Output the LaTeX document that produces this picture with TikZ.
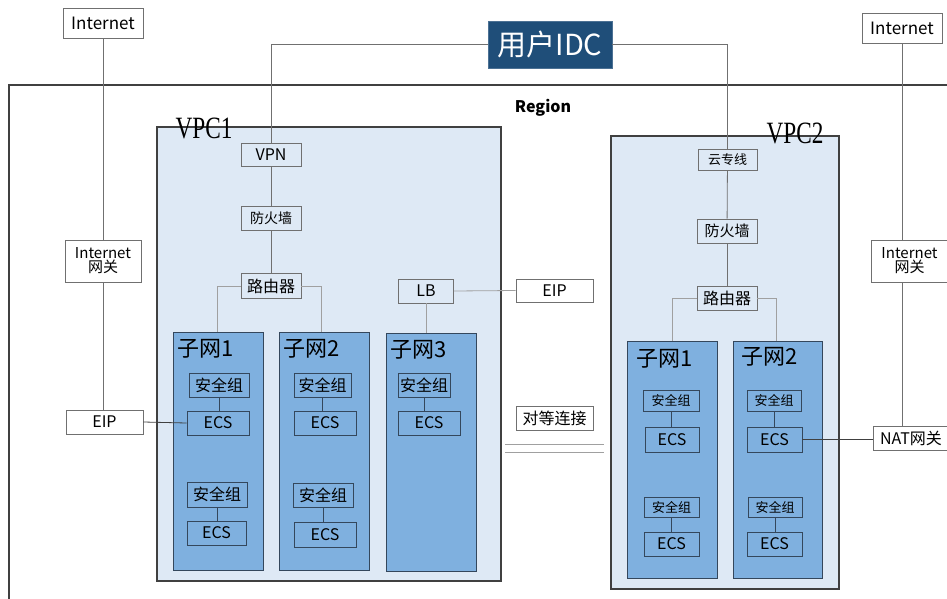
\documentclass[tikz,border=0pt]{standalone}
\usepackage{fontspec}
\setmainfont{Noto Sans CJK SC}
\newfontfamily\vpcfont{Liberation Serif}
\usetikzlibrary{calc}

\definecolor{vpcfill}{HTML}{DEE9F5}
\definecolor{subfill}{HTML}{7FB0DF}
\definecolor{idcblue}{HTML}{1F4E79}
\definecolor{edgec}{HTML}{404040}
\definecolor{wire}{HTML}{707070}
\definecolor{wirelt}{HTML}{A0A0A0}
\definecolor{innerc}{HTML}{34475C}

\tikzset{
  fs/.style={font=\fontsize{#1}{#1}\selectfont},
  sz/.style 2 args={minimum width=#1, minimum height=#2},
  box/.style={draw=wire, fill=white, inner sep=0pt, line width=0.9pt, fs=16},
  vbox/.style={box, fill=vpcfill},
  sbox/.style={draw=innerc, fill=subfill, inner sep=0pt, line width=0.9pt, fs=16},
  vpc/.style={draw=edgec, fill=vpcfill, line width=1.1pt, inner sep=0pt},
  subnet/.style={draw=innerc, fill=subfill, line width=1pt, inner sep=0pt},
  subtitle/.style={anchor=west, inner sep=0pt, fs=22},
  vpclabel/.style={inner sep=0pt, font=\vpcfont\fontsize{31}{31}\selectfont},
  link/.style={draw=wire, line width=0.8pt},
  linkdk/.style={draw=edgec, line width=0.8pt},
  linklt/.style={draw=wirelt, line width=0.8pt},
}

\begin{document}
\begin{tikzpicture}[x=1pt, y=-1pt]
\useasboundingbox (0,0) rectangle (947,599);
\clip (0,0) rectangle (947,599);

% Region frame (continues past the lower and right edges)
\draw[edgec, line width=1.1pt] (9,620) -- (9,85) -- (960,85);
\node[inner sep=0pt, font=\bfseries\fontsize{16}{16}\selectfont] (region) at (543,108) {Region};

% VPC containers
\node[vpc, sz={344}{454}] (vpc1) at (329,354) {};
\node[vpc, sz={228}{453}] (vpc2) at (725,362.5) {};

% Subnets of VPC1
\node[subnet, sz={90}{238}] (s11) at (218,451) {};
\node[subnet, sz={90}{238}] (s12) at (324,451) {};
\node[subnet, sz={90}{238}] (s13) at (431,452) {};
\node[subtitle] (s11t) at (177,349) {子网1};
\node[subtitle] (s12t) at (283,349) {子网2};
\node[subtitle] (s13t) at (390,350) {子网3};

% Subnets of VPC2
\node[subnet, sz={90}{237}] (s21) at (672,459.5) {};
\node[subnet, sz={89}{237}] (s22) at (777.5,459.5) {};
\node[subtitle] (s21t) at (636,359) {子网1};
\node[subtitle] (s22t) at (741,357) {子网2};

% VPC titles
\node[vpclabel] (vpc1t) at (204,128) {\scalebox{0.75}[1]{VPC1}};
\node[vpclabel] (vpc2t) at (795,133) {\scalebox{0.75}[1]{VPC2}};

% Outside the region
\node[box, sz={80}{30}, fs=17] (inetL) at (103,23) {Internet};
\node[box, sz={80}{30}, fs=17] (inetR) at (902,28) {Internet};
\node[draw=idcblue!80!white, fill=idcblue, text=white, inner sep=0pt, sz={124}{47}, fs=29] (idc) at (550,44.5) {用户IDC};

% Gateways and public addresses
\node[box, sz={76}{42}, fs=15, align=center] (gwL) at (103,261) {Internet\\[-1pt]网关};
\node[box, sz={76}{42}, fs=15, align=center] (gwR) at (909.5,261) {Internet\\[-1pt]网关};
\node[box, sz={77}{24}] (eipL) at (104.5,422) {EIP};
\node[box, sz={76}{24}] (nat) at (911,438) {NAT网关};
\node[box, sz={77}{23}] (eipM) at (554.5,290.5) {EIP};
\node[box, sz={77}{24}] (peer) at (554.5,418) {对等连接};

% VPC1 chain
\node[vbox, sz={60}{23}] (vpn) at (271,155) {VPN};
\node[vbox, sz={60}{24}, fs=14] (fw1) at (271,218) {防火墙};
\node[vbox, sz={60}{25}] (rt1) at (271,286) {路由器};
\node[vbox, sz={55}{24}] (lb) at (426,291) {LB};

% VPC2 chain
\node[vbox, sz={59}{21}, fs=13] (yun) at (727.5,159.5) {云专线};
\node[vbox, sz={60}{24}, fs=15] (fw2) at (727,231) {防火墙};
\node[vbox, sz={60}{24}] (rt2) at (727,298) {路由器};

% Security groups and servers, VPC1
\node[sbox, sz={60}{24}] (sg111) at (219,385) {安全组};
\node[sbox, sz={62}{24}] (ecs111) at (218,423) {ECS};
\node[sbox, sz={60}{25}] (sg112) at (217,494.5) {安全组};
\node[sbox, sz={59}{24}] (ecs112) at (216.5,533) {ECS};
\node[sbox, sz={57}{24}] (sg121) at (322.5,385) {安全组};
\node[sbox, sz={62}{24}] (ecs121) at (325,423) {ECS};
\node[sbox, sz={60}{24}] (sg122) at (323,495) {安全组};
\node[sbox, sz={62}{25}] (ecs122) at (325,534.5) {ECS};
\node[sbox, sz={52}{24}] (sg131) at (424,385) {安全组};
\node[sbox, sz={62}{24}] (ecs131) at (429,423) {ECS};

% Security groups and servers, VPC2
\node[sbox, sz={56}{21}, fs=13] (sg211) at (671,400.5) {安全组};
\node[sbox, sz={54}{25}] (ecs211) at (672,439.5) {ECS};
\node[sbox, sz={55}{20}, fs=13] (sg212) at (671.5,507) {安全组};
\node[sbox, sz={55}{24}] (ecs212) at (671.5,544) {ECS};
\node[sbox, sz={54}{21}, fs=13] (sg221) at (774,400.5) {安全组};
\node[sbox, sz={55}{25}] (ecs221) at (774.5,439.5) {ECS};
\node[sbox, sz={54}{20}, fs=13] (sg222) at (775,507) {安全组};
\node[sbox, sz={55}{24}] (ecs222) at (774.5,544) {ECS};

% Connectors
\draw[link] (idc.west) -| (vpn.north);
\draw[link] (idc.east) -| (yun.north);
\draw[link] (inetL.south) -- (gwL.north);
\draw[link] (gwL.south) -- (gwL.south |- eipL.north);
\draw[linkdk] (eipL.east) -- (ecs111.west);
\draw[link] (inetR.south) -- (inetR.south |- gwR.north);
\draw[link] (gwR.south -| inetR.south) -- (nat.north -| inetR.south);
\draw[linkdk] (ecs221.east) -- (ecs221.east -| nat.west);

\draw[link] (vpn) -- (fw1);
\draw[link] (fw1) -- (rt1);
\draw[linklt] (rt1.west) -| ($(s11.north)+(-1,0)$);
\draw[linklt] (rt1.east) -| ($(s12.north)+(-3,0)$);
\draw[linklt] (lb.south) -- (lb.south |- s13.north);
\draw[linklt] (lb.east) -- (eipM.west);

\draw[link] (yun) -- (fw2);
\draw[link] (fw2) -- (rt2);
\draw[linklt] (rt2.west) -| (s21.north);
\draw[linklt] (rt2.east) -| ($(s22.north)+(-1.5,0)$);

\foreach \a/\b in {sg111/ecs111, sg112/ecs112, sg121/ecs121, sg122/ecs122, sg131/ecs131,
                   sg211/ecs211, sg212/ecs212, sg221/ecs221, sg222/ecs222}
  \draw[draw=innerc, line width=0.8pt] (\a.south) -- (\a.south |- \b.north);

% Peering link between the two VPCs
\coordinate (pa) at (505,444);
\coordinate (pb) at (604,444);
\coordinate (pc) at (505,452);
\coordinate (pd) at (604,452);
\draw[linklt] (pa) -- (pb);
\draw[linklt] (pc) -- (pd);
\end{tikzpicture}
\end{document}
